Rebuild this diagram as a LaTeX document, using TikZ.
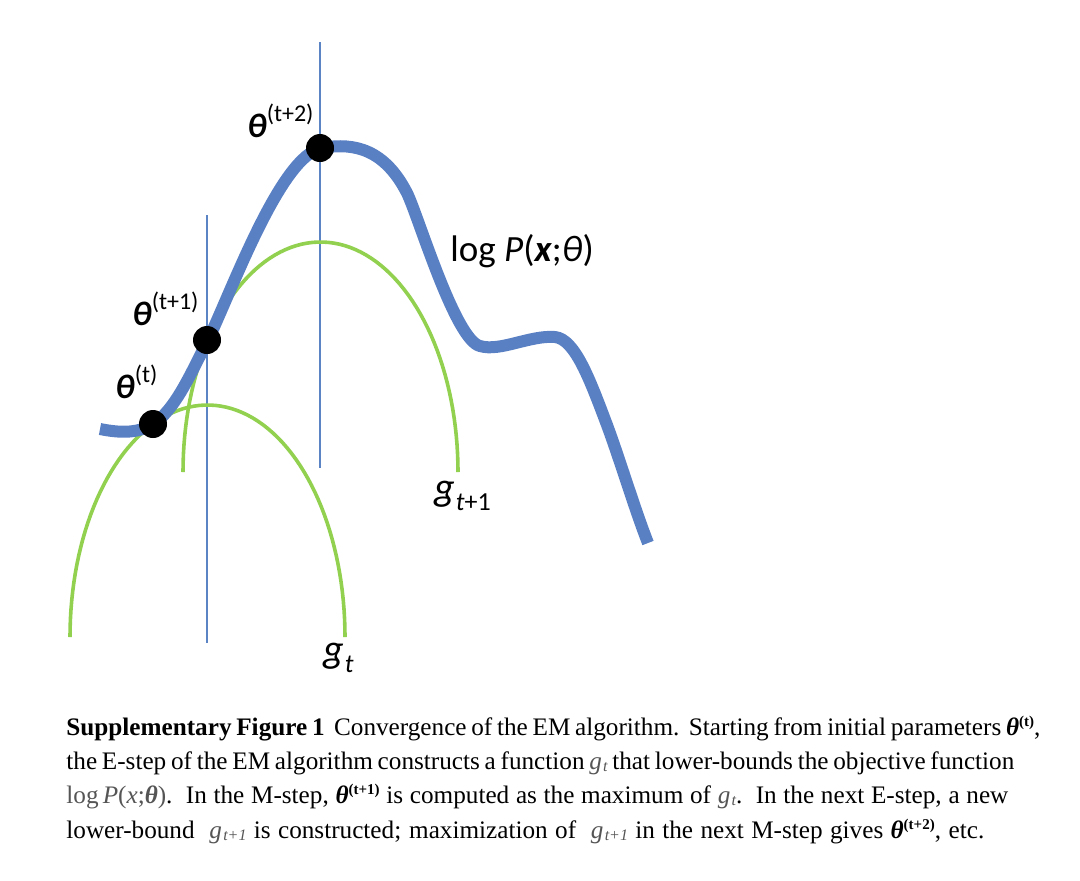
\documentclass[tikz,border=0pt]{standalone}
\usepackage{fontspec}
\setmainfont{Liberation Serif}
\newfontfamily\labfont{Carlito}
\definecolor{curveblue}{HTML}{5A80C4}
\definecolor{lineblue}{HTML}{5B84C4}
\definecolor{bgreen}{HTML}{92D050}
\definecolor{mathgray}{HTML}{555555}
\newcommand{\thlab}[1]{{\bfseries\itshape θ}\raisebox{0.45em}{\fontsize{12}{12}\selectfont(#1)}}
\newcommand{\capth}[1]{{\bfseries\itshape θ}\raisebox{0.75ex}{\fontsize{7.5}{7.5}\selectfont\bfseries(#1)}}
\newcommand{\capg}[1]{{\color{mathgray}\itshape g\kern0.05em\raisebox{-0.25ex}{\fontsize{8}{8}\selectfont #1}}}
\begin{document}
\begin{tikzpicture}[x=0.5pt,y=-0.5pt,
  logcurve/.style={curveblue,line width=6pt},
  bound/.style={bgreen,line width=1.8pt},
  vline/.style={lineblue,line width=0.6pt},
  dot/.style={circle,fill=black,inner sep=0pt,minimum size=14pt},
  lab/.style={font=\labfont\fontsize{17}{17}\selectfont,inner sep=0pt},
  capline/.style={anchor=base west,inner sep=0pt,font=\fontsize{12.6}{15}\selectfont}]
\useasboundingbox (0,0) rectangle (1080,880);
% vertical lines
\coordinate (v1t) at (207,215); \coordinate (v1b) at (207,643);
\coordinate (v2t) at (320,42);  \coordinate (v2b) at (320,468);
\draw[vline] (v1t) -- (v1b);
\draw[vline] (v2t) -- (v2b);
% lower bounds
\draw[bound] plot[domain=180:0,samples=80] ({207.5+137.5*cos(\x)},{637-232*sin(\x)});
\draw[bound] plot[domain=180:0,samples=80] ({320.5+137.5*cos(\x)},{472-230*sin(\x)});
% objective
\draw[logcurve] (100,429) .. controls (125,434) and (140,432) .. (153,424)
  .. controls (175,410) and (190,375) .. (207,342)
  .. controls (230,296) and (280,155) .. (322,148)
  .. controls (355,142) and (385,150) .. (407,193)
  .. controls (418,215) and (455,340) .. (480,346)
  .. controls (500,352) and (530,335) .. (555,337)
  .. controls (575,339) and (590,380) .. (607,425)
  .. controls (620,460) and (635,510) .. (648,543);
% dots
\node[dot] (d0) at (153,424) {};
\node[dot] (d1) at (207,340) {};
\node[dot] (d2) at (320,148) {};
% labels
\node[lab,anchor=base west] (l0) at (115,398) {\thlab{t}};
\node[lab,anchor=base west] (l1) at (132,325) {\thlab{t+1}};
\node[lab,anchor=base west] (l2) at (247,137) {\thlab{t+2}};
\node[lab,anchor=base west,font=\labfont\fontsize{18.5}{18.5}\selectfont] (lp) at (450,261) {log \textit{P}(\textbf{\textit{x}};\textit{θ})};
\node[lab,anchor=base west,font=\labfont\fontsize{20}{20}\selectfont] (gt1) at (434,500) {\textit{g}\kern0.5pt\raisebox{-0.25em}{\fontsize{13}{13}\selectfont\textit{t}+1}};
\node[lab,anchor=base west,font=\labfont\fontsize{20}{20}\selectfont] (gt) at (323,662) {\textit{g}\kern0.5pt\raisebox{-0.25em}{\fontsize{13}{13}\selectfont\textit{t}}};
% caption
\node[capline] (c1) at (66,735) {\makebox[487pt][s]{\textbf{Supplementary Figure 1}\ \ Convergence of the EM algorithm.\ \ Starting from initial parameters \capth{t},}};
\node[capline] (c2) at (66,769) {\makebox[474pt][s]{the E-step of the EM algorithm constructs a function \capg{t} that lower-bounds the objective function}};
\node[capline] (c3) at (66,803) {\makebox[471pt][s]{{\color{mathgray}log\,\textit{P}(\textit{x};\textbf{\textit{θ}})}.\ \ In the M-step, \capth{t+1} is computed as the maximum of \capg{t}.\ \ In the next E-step, a new}};
\node[capline] (c4) at (66,838) {\makebox[459pt][s]{lower-bound\ \ \capg{t+1} is constructed; maximization of\ \ \capg{t+1} in the next M-step gives \capth{t+2}, etc.}};
\end{tikzpicture}
\end{document}
